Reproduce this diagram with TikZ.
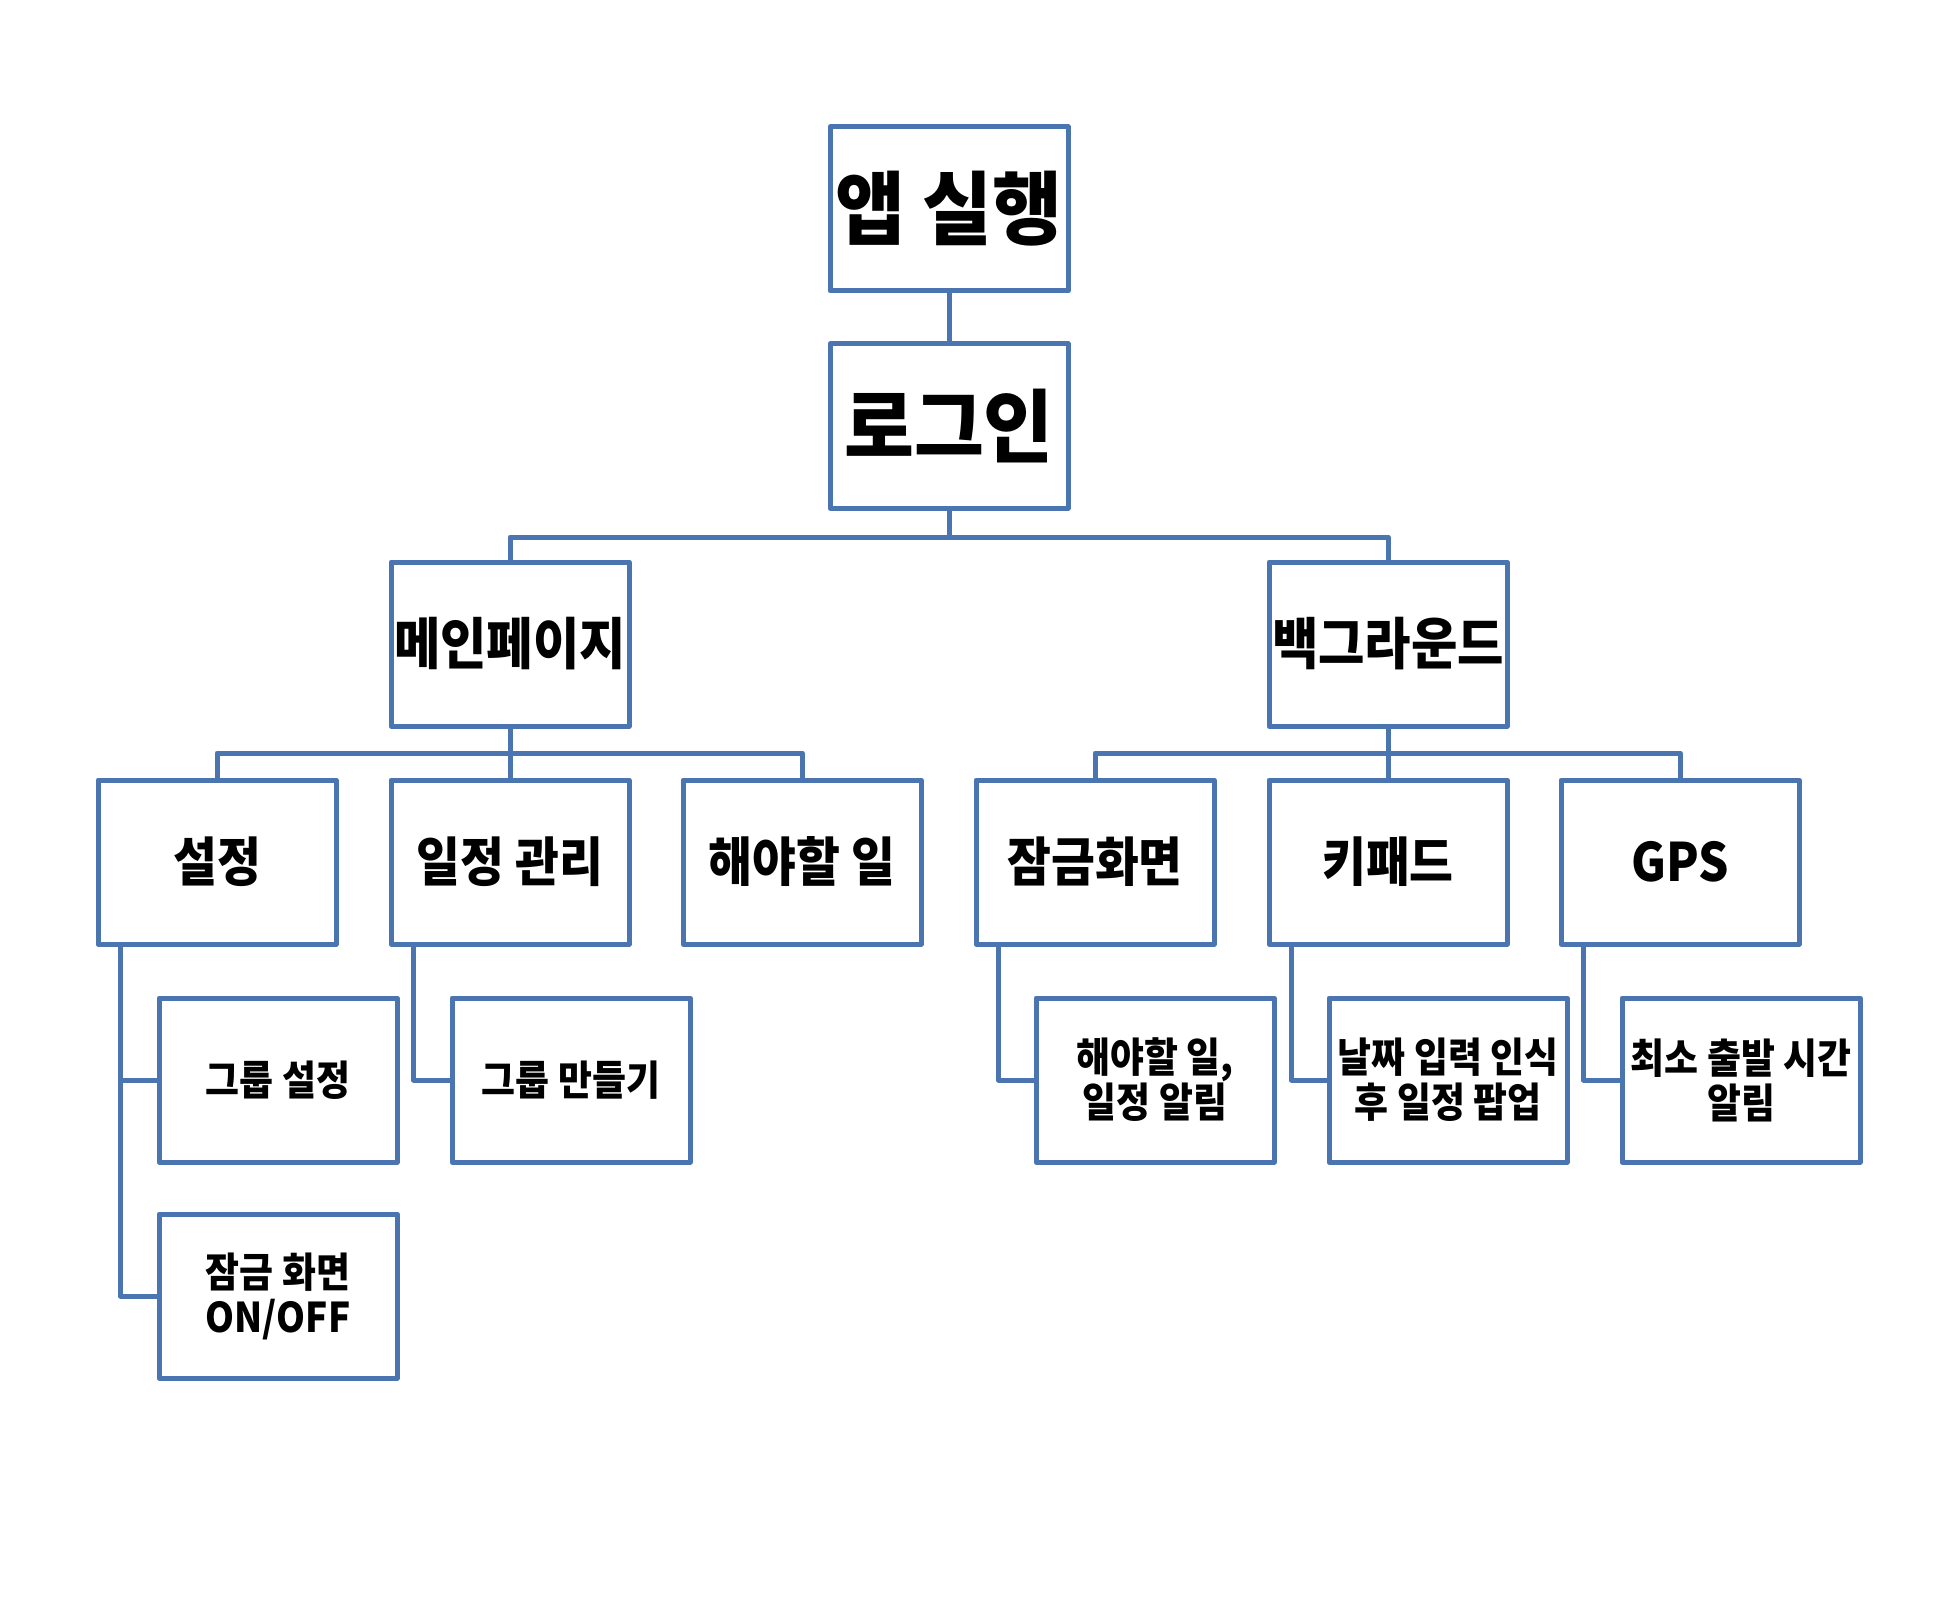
\documentclass[tikz,border=0pt]{standalone}
\usepackage{fontspec}
\setmainfont{Noto Sans CJK KR}[FakeStretch=0.9]
\newfontfamily\widekr{Noto Sans CJK KR}[FakeStretch=0.95]
\usetikzlibrary{calc}

\definecolor{boxblue}{RGB}{74,117,176}
\newcommand\fitline[1]{\makebox[0pt]{#1}}
\tikzset{
  box/.style={draw=boxblue, line width=2.5pt, line join=round, minimum width=119pt, minimum height=82pt, inner sep=0.5pt, align=center, font=\bfseries},
  topbox/.style={box, font=\fontsize{40}{44}\widekr\bfseries},
  midbox/.style={box, font=\fontsize{28}{30}\selectfont\bfseries},
  subbox/.style={box, font=\fontsize{26.5}{30}\selectfont\bfseries},
  leafbox/.style={box, font=\fontsize{20.5}{22.5}\selectfont\bfseries},
  link/.style={draw=boxblue, line width=2.5pt, line join=round}
}

\begin{document}
\begin{tikzpicture}[x=0.5pt,y=0.5pt,yscale=-1,xscale=1]
\useasboundingbox (0,0) rectangle (1958,1610);

%Top boxes
\node[topbox] (app) at (949,209) {\fitline{앱 실행}};
\node[topbox] (login) at (949,426) {\fitline{로그인}};
%Second row
\node[midbox] (main) at (510,644) {\fitline{메인페이지}};
\node[midbox] (bg) at (1388,644) {\fitline{백그라운드}};
%Third row
\node[subbox] (set) at (217,862) {설정};
\node[subbox] (sched) at (510,862) {일정 관리};
\node[subbox] (todo) at (802,862) {해야할 일};
\node[subbox] (lock) at (1095,862) {잠금화면};
\node[subbox] (keypad) at (1388,862) {키패드};
\node[subbox] (gps) at (1680,862) {GPS};
%Leaves
\node[leafbox] (grp) at (278,1080) {그룹 설정};
\node[leafbox] (onoff) at (278,1296) {잠금 화면\\ON/OFF};
\node[leafbox] (mkgrp) at (571,1080) {그룹 만들기};
\node[leafbox] (alarm) at (1155,1080) {해야할 일,\\일정 알림};
\node[leafbox] (popup) at (1448,1080) {\fitline{날짜 입력 인식}\\\fitline{후 일정 팝업}};
\node[leafbox] (depart) at (1741,1080) {\fitline{최소 출발 시간}\\알림};

%Connectors
\draw[link] (app) -- (login);
\coordinate (j1) at (949,537);
\draw[link] (login) -- (j1);
\draw[link] (main.north) |- (j1) -| (bg.north);

\coordinate (j2) at (510,753);
\draw[link] (main) -- (sched);
\draw[link] (set.north) |- (j2) -| (todo.north);
\coordinate (j3) at (1388,753);
\draw[link] (bg) -- (keypad);
\draw[link] (lock.north) |- (j3) -| (gps.north);

\coordinate (s0) at ([xshift=12.5pt]set.south west);
\draw[link] (s0) |- (onoff.west);
\draw[link] (s0 |- grp.west) -- (grp.west);
\coordinate (s1) at ([xshift=12.5pt]sched.south west);
\draw[link] (s1) |- (mkgrp.west);
\coordinate (s2) at ([xshift=12.5pt]lock.south west);
\draw[link] (s2) |- (alarm.west);
\coordinate (s3) at ([xshift=12.5pt]keypad.south west);
\draw[link] (s3) |- (popup.west);
\coordinate (s4) at ([xshift=12.5pt]gps.south west);
\draw[link] (s4) |- (depart.west);

\end{tikzpicture}
\end{document}
